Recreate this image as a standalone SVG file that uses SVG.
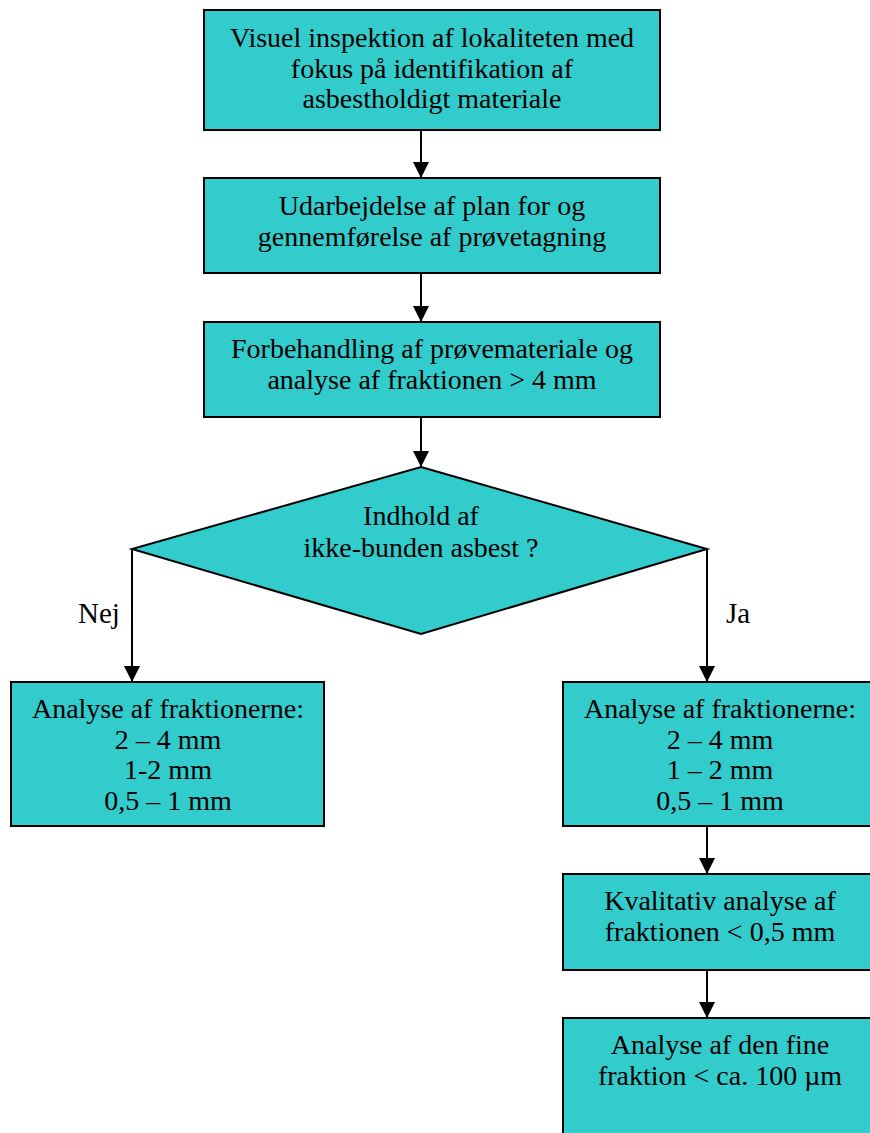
<svg xmlns="http://www.w3.org/2000/svg" width="870" height="1133" viewBox="0 0 870 1133">
<defs>
<style>
.box{fill:#33CCCC;stroke:#000;stroke-width:2}
.t{font-family:"Liberation Serif","Times New Roman",serif;font-size:28px;fill:#000;text-anchor:middle}
.l{font-family:"Liberation Serif","Times New Roman",serif;font-size:29px;fill:#000}
.c{stroke:#000;stroke-width:2;fill:none}
</style>
<marker id="ah" markerWidth="16" markerHeight="16" viewBox="0 0 16 16" refX="16" refY="8" orient="auto" markerUnits="userSpaceOnUse">
<path d="M0,0 L16,8 L0,16 Z" fill="#000"/>
</marker>
</defs>
<rect width="870" height="1133" fill="#fff"/>
<g id="connectors">
<line class="c" x1="421" y1="130" x2="421" y2="178" marker-end="url(#ah)"/>
<line class="c" x1="421" y1="273" x2="421" y2="322" marker-end="url(#ah)"/>
<line class="c" x1="421" y1="417" x2="421" y2="467" marker-end="url(#ah)"/>
<polyline class="c" points="132,549 132,682" marker-end="url(#ah)"/>
<polyline class="c" points="707,549 707,682" marker-end="url(#ah)"/>
<line class="c" x1="707" y1="826" x2="707" y2="874" marker-end="url(#ah)"/>
<line class="c" x1="707" y1="970" x2="707" y2="1018" marker-end="url(#ah)"/>
<text class="l" x="78" y="623">Nej</text>
<text class="l" x="726" y="623">Ja</text>
</g>
<g id="n1">
<rect class="box" x="204" y="10" width="456" height="120"/>
<text class="t" x="432" y="47">Visuel inspektion af lokaliteten med</text>
<text class="t" x="432" y="78">fokus på identifikation af</text>
<text class="t" x="432" y="108">asbestholdigt materiale</text>
</g>
<g id="n2">
<rect class="box" x="204" y="178" width="456" height="95"/>
<text class="t" x="432" y="215">Udarbejdelse af plan for og</text>
<text class="t" x="432" y="246">gennemførelse af prøvetagning</text>
</g>
<g id="n3">
<rect class="box" x="204" y="322" width="456" height="95"/>
<text class="t" x="432" y="358">Forbehandling af prøvemateriale og</text>
<text class="t" x="432" y="389">analyse af fraktionen &gt; 4 mm</text>
</g>
<g id="n4">
<polygon class="box" points="421,467 707,549 421,634 132,549"/>
<text class="t" x="421" y="525">Indhold af</text>
<text class="t" x="421" y="557">ikke-bunden asbest ?</text>
</g>
<g id="n5">
<rect class="box" x="11" y="682" width="313" height="144"/>
<text class="t" x="168" y="718">Analyse af fraktionerne:</text>
<text class="t" x="168" y="749">2 – 4 mm</text>
<text class="t" x="168" y="779">1-2 mm</text>
<text class="t" x="168" y="810">0,5 – 1 mm</text>
</g>
<g id="n6">
<rect class="box" x="563" y="682" width="320" height="144"/>
<text class="t" x="720" y="718">Analyse af fraktionerne:</text>
<text class="t" x="720" y="749">2 – 4 mm</text>
<text class="t" x="720" y="779">1 – 2 mm</text>
<text class="t" x="720" y="810">0,5 – 1 mm</text>
</g>
<g id="n7">
<rect class="box" x="563" y="874" width="320" height="96"/>
<text class="t" x="720" y="910">Kvalitativ analyse af</text>
<text class="t" x="720" y="941">fraktionen &lt; 0,5 mm</text>
</g>
<g id="n8">
<rect class="box" x="563" y="1018" width="320" height="130"/>
<text class="t" x="720" y="1054">Analyse af den fine</text>
<text class="t" x="720" y="1085">fraktion &lt; ca. 100 µm</text>
</g>
</svg>
